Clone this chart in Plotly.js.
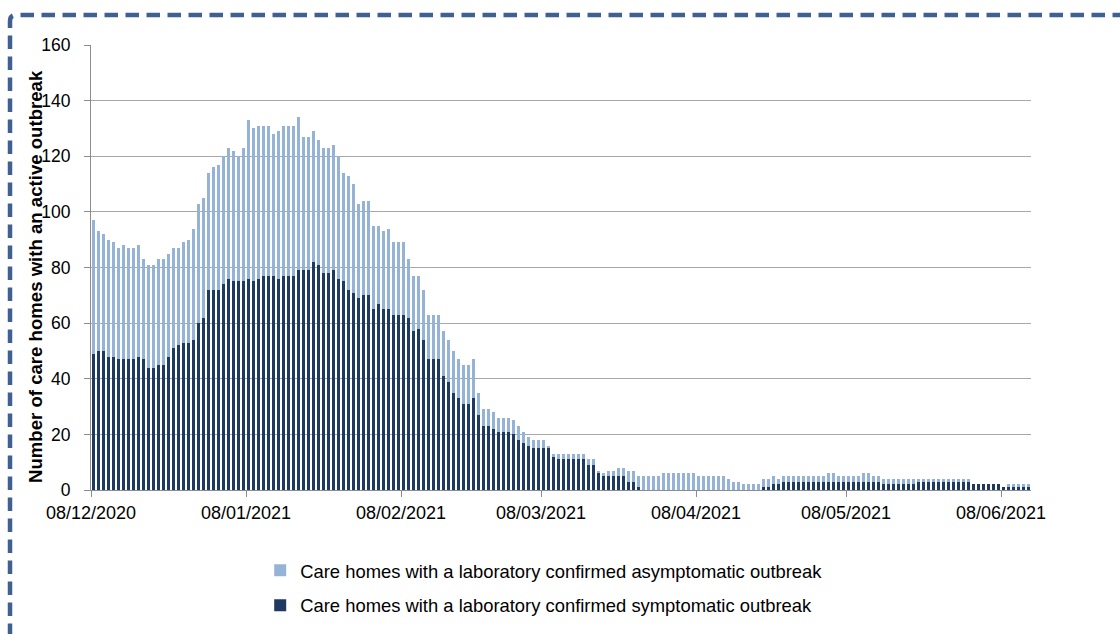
<!DOCTYPE html>
<html>
<head>
<meta charset="utf-8">
<script src="https://cdn.plot.ly/plotly-3.0.1.min.js"></script>
<style>
  html, body { margin: 0; padding: 0; background: #ffffff; overflow: hidden; }
  #chart { width: 1120px; height: 634px; }
</style>
</head>
<body>
<div id="chart"></div>
<script>
// First day of the daily series (one bar per day)
const startDate = [2020, 11, 8]; // 08/12/2020

// Care homes with a laboratory confirmed symptomatic outbreak (dark, bottom)
const symptomatic = [
  49,50,50,48,48,47,47,47,47,48,
  47,44,44,45,45,48,51,52,53,53,
  54,60,62,72,72,72,74,76,75,75,
  75,76,75,76,77,77,77,76,77,77,
  77,79,79,79,82,81,78,78,79,76,
  75,72,71,69,70,70,65,67,65,65,
  63,63,63,62,57,58,54,47,47,47,
  41,39,35,33,31,31,33,27,23,23,
  22,21,21,21,20,18,17,16,15,15,
  15,15,12,11,11,11,11,11,11,9,
  9,6,5,5,5,5,5,3,3,1,
  0,0,0,0,0,0,0,0,0,0,
  0,0,0,0,0,0,0,0,0,0,
  0,0,0,0,1,1,2,2,3,3,
  3,3,3,3,3,3,3,3,3,3,
  3,3,3,3,3,3,3,3,2,2,
  2,2,2,2,2,3,3,3,3,3,
  3,3,3,3,3,3,2,2,2,2,
  2,2,1,1,1,1,1,1
];

// Care homes with a laboratory confirmed asymptomatic outbreak (light, stacked on top)
const asymptomatic = [
  48,43,42,42,41,40,41,40,40,40,
  36,37,37,38,38,37,36,35,36,37,
  40,43,43,42,44,45,46,47,47,45,
  48,57,55,55,54,54,51,53,54,54,
  54,55,48,48,47,45,45,45,45,44,
  39,41,39,34,34,34,30,28,28,29,
  26,26,26,21,20,19,18,16,16,16,
  16,15,15,14,14,14,14,8,6,6,
  6,5,5,5,5,5,4,3,3,3,
  3,1,1,2,2,2,2,2,2,2,
  2,1,1,2,2,3,3,4,4,4,
  5,5,5,5,6,6,6,6,6,6,
  6,5,5,5,5,5,5,4,3,3,
  2,2,2,2,3,3,3,2,2,2,
  2,2,2,2,2,2,2,3,3,2,
  2,2,2,2,3,3,2,2,2,2,
  2,2,2,2,2,1,1,1,1,1,
  1,1,1,1,1,1,0,0,0,0,
  0,0,0,1,1,1,1,1
];

const seriesNames = [
  'Care homes with a laboratory confirmed symptomatic outbreak',
  'Care homes with a laboratory confirmed asymptomatic outbreak'
];
const yTitle = 'Number of care homes with an active outbreak';
const xTickFirst = '2020-12-08';
const xRange = ['2020-12-08', '2021-06-14'];

function pad(n) { return (n < 10 ? '0' : '') + n; }
const dates = symptomatic.map(function (_, i) {
  const d = new Date(Date.UTC(startDate[0], startDate[1], startDate[2] + i));
  return d.getUTCFullYear() + '-' + pad(d.getUTCMonth() + 1) + '-' + pad(d.getUTCDate());
});

const DARK = '#1f3a60';
const LIGHT = '#95b3d7';
const GREY = '#8c8c8c';
const FONT = 'Liberation Sans, Arial, Helvetica, sans-serif';

const traces = [
  {
    type: 'bar', name: seriesNames[0], x: dates, y: symptomatic,
    xperiod: 86400000, xperiodalignment: 'middle',
    marker: { color: DARK, line: { width: 0 } },
    legendgroup: 'sym', legendrank: 2, hoverinfo: 'x+y+name'
  },
  {
    type: 'bar', name: seriesNames[1], x: dates, y: asymptomatic,
    xperiod: 86400000, xperiodalignment: 'middle',
    marker: { color: LIGHT, line: { width: 0 } },
    legendgroup: 'asym', legendrank: 1, hoverinfo: 'x+y+name'
  }
];

// Plot area: x 91..1031 px, y 45..490 px
const L = 91, R = 1031, T = 45, B = 490;
const W = R - L, H = B - T;
function px(x) { return (x - L) / W; }
function py(y) { return (B - y) / H; }
const bx = 10, by = 15, rad = 6;
const borderPath =
  'M ' + px(bx) + ',' + py(700) +
  ' L ' + px(bx) + ',' + py(by + rad) +
  ' Q ' + px(bx) + ',' + py(by) + ' ' + px(bx + rad) + ',' + py(by) +
  ' L ' + px(1250) + ',' + py(by);

const layout = {
  width: 1120, height: 634,
  margin: { l: L, r: 1120 - R, t: T, b: 634 - B, pad: 0, autoexpand: false },
  paper_bgcolor: '#ffffff', plot_bgcolor: '#ffffff',
  font: { family: FONT, size: 18, color: '#000000' },
  barmode: 'stack', bargap: 0.5,
  showlegend: true,
  xaxis: {
    type: 'date', range: xRange, autorange: false, automargin: false,
    tick0: xTickFirst, dtick: 'M1', tickformat: '%d/%m/%Y',
    ticks: 'outside', ticklen: 6, tickwidth: 1, tickcolor: GREY,
    showline: true, linecolor: GREY, linewidth: 1,
    showgrid: false, zeroline: false,
    tickfont: { family: FONT, size: 18, color: '#000000' }
  },
  yaxis: {
    range: [0, 160], autorange: false, automargin: false, dtick: 20, tick0: 0,
    ticks: 'outside', ticklen: 6, tickwidth: 1, tickcolor: GREY,
    showline: true, linecolor: GREY, linewidth: 1,
    showgrid: true, gridcolor: '#a8a8a8', gridwidth: 1,
    zeroline: false,
    tickfont: { family: FONT, size: 17.5, color: '#000000' },
    ticklabelstandoff: 10
  },
  annotations: [{
    text: '<b>' + yTitle + '</b>', textangle: -90,
    xref: 'paper', yref: 'paper', x: px(35), y: py(277), xanchor: 'center', yanchor: 'middle',
    showarrow: false, font: { family: FONT, size: 18.6, color: '#000000' }
  }],
  legend: {
    orientation: 'v', x: 0.18, xanchor: 'left', y: -0.22, yanchor: 'middle',
    traceorder: 'grouped', tracegroupgap: 8,
    font: { family: FONT, size: 18.4, color: '#000000' },
    bgcolor: 'rgba(0,0,0,0)', borderwidth: 0
  },
  shapes: [{
    type: 'path', xref: 'paper', yref: 'paper', path: borderPath,
    line: { color: '#3f6090', width: 4.5, dash: '13.5px,7.5px' },
    fillcolor: 'rgba(0,0,0,0)', layer: 'above'
  }]
};

Plotly.newPlot('chart', traces, layout, { displayModeBar: false, staticPlot: true });
</script>
</body>
</html>
